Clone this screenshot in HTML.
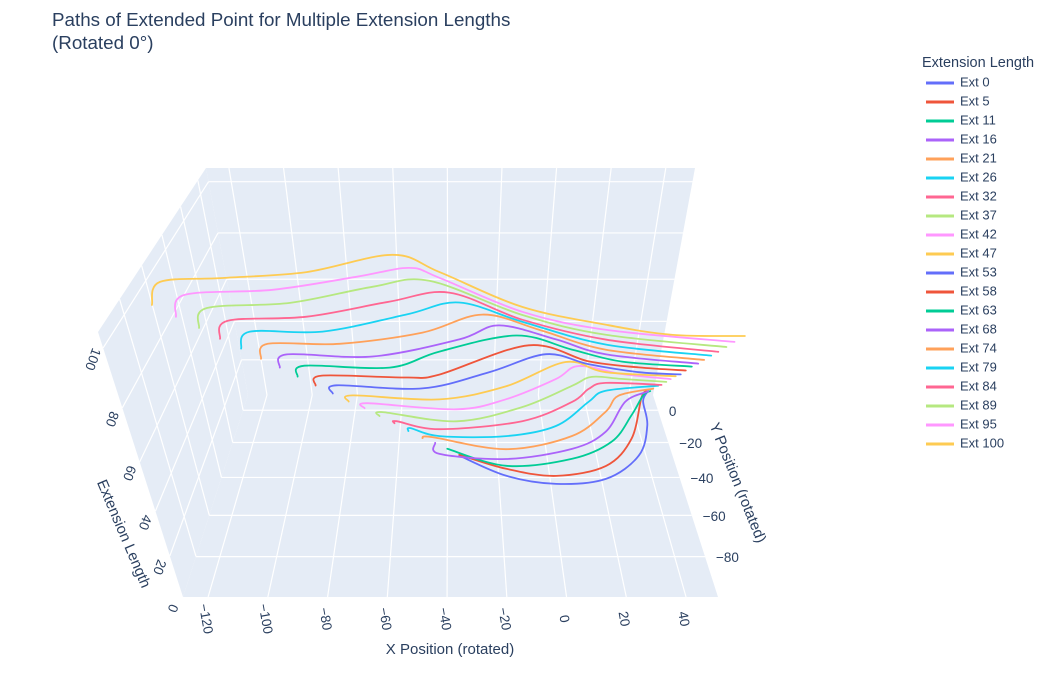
<!DOCTYPE html>
<html><head><meta charset="utf-8"><style>
html,body{margin:0;padding:0;background:#fff;}
svg{display:block;font-family:"Liberation Sans",Arial,sans-serif;}
</style></head><body>
<svg id="chart" width="1046" height="700" viewBox="0 0 1046 700" xmlns="http://www.w3.org/2000/svg">
<text x="52" y="26" font-size="18.8" fill="#2a3f5f">Paths of Extended Point for Multiple Extension Lengths</text>
<text x="52" y="49" font-size="18.8" fill="#2a3f5f">(Rotated 0°)</text>
<g id="scene"></g>
<g id="legend">
<text x="922" y="67" font-size="14.5" fill="#2a3f5f">Extension Length</text>
</g>
</svg>
<script>
const extValues = [0,5.26,10.53,15.79,21.05,26.32,31.58,36.84,42.11,47.37,52.63,57.89,63.16,68.42,73.68,78.95,84.21,89.47,94.74,100];
const seriesLabels = ["Ext 0","Ext 5","Ext 11","Ext 16","Ext 21","Ext 26","Ext 32","Ext 37","Ext 42","Ext 47","Ext 53","Ext 58","Ext 63","Ext 68","Ext 74","Ext 79","Ext 84","Ext 89","Ext 95","Ext 100"];
const seriesX = [
[-35.3,-17.0,2.1,21.8,37.1,44.2,45.5,49.1],
[-35.4,-17.3,1.6,21.5,34.3,43.2,46.2],
[-40.1,-17.7,7.7,24.5,35.1,42.5,46.0],
[-44.7,-43.0,-18.1,7.1,21.4,32.4,43.0],
[-49.4,-45.7,-18.3,6.8,21.7,28.5,43.4],
[-54.4,-53.7,-42.9,-18.5,0.3,14.5,22.2,43.6],
[-59.2,-58.5,-42.8,-12.8,6.7,14.2,21.3,42.7],
[-64.2,-63.3,-36.8,-13.0,6.6,14.9,26.0,42.6],
[-69.0,-68.2,-36.8,-19.1,-0.1,9.4,24.7,42.2],
[-73.9,-72.9,-42.8,-19.3,3.5,17.2,41.9],
[-78.6,-77.9,-48.5,-25.4,-4.4,10.2,27.0,41.3],
[-83.5,-82.2,-53.7,-42.7,-11.1,8.8,25.3,40.9],
[-88.5,-87.2,-59.0,-42.7,-16.0,2.4,18.2,40.7],
[-93.2,-92.2,-64.2,-36.0,-22.2,-3.6,11.7,40.3],
[-97.9,-97.4,-74.4,-48.1,-28.2,-9.9,10.2,39.7],
[-102.8,-102.1,-79.2,-53.3,-36.1,-16.0,8.8,39.4],
[-107.7,-107.7,-83.7,-58.5,-39.4,-16.8,7.4,38.9],
[-112.4,-112.9,-88.2,-63.7,-45.8,-17.5,5.9,38.6],
[-117.4,-118.2,-92.6,-68.1,-52.0,-42.4,-18.3,4.4,38.2],
[-122.4,-124.0,-106.2,-82.0,-57.0,-42.3,-19.0,2.9,19.5,38.3]
];
const seriesY = [
[-27.7,-39.1,-43.5,-40.8,-27.7,-9.5,6.0,12.7],
[-32.6,-40.5,-44.4,-38.9,-23.2,1.9,6.6],
[-34.8,-44.3,-40.4,-30.6,-14.9,-2.2,0.5],
[-37.1,-43.3,-46.1,-40.5,-30.7,-12.4,-5.9],
[-40.2,-39.6,-46.4,-39.0,-24.8,-14.9,-10.4],
[-42.2,-40.5,-45.0,-45.0,-39.3,-25.0,-18.2,-15.0],
[-43.8,-42.7,-47.2,-42.7,-31.5,-23.5,-19.8,-21.0],
[-46.1,-43.8,-49.0,-40.9,-28.3,-22.7,-24.0,-25.8],
[-48.1,-45.2,-48.7,-42.9,-30.9,-22.8,-27.8,-30.9],
[-50.9,-47.4,-49.7,-42.1,-27.4,-33.7,-36.1],
[-53.2,-48.5,-50.3,-40.8,-29.8,-36.0,-40.8,-42.1],
[-55.7,-50.0,-51.1,-49.4,-31.7,-41.6,-45.2,-47.0],
[-57.9,-51.6,-52.7,-43.2,-33.3,-42.0,-49.2,-52.1],
[-60.2,-52.6,-53.8,-43.6,-34.9,-43.6,-52.6,-57.9],
[-62.9,-54.2,-54.2,-47.5,-36.3,-45.7,-57.7,-63.5],
[-65.0,-55.1,-55.1,-44.7,-37.1,-49.1,-62.7,-69.0],
[-67.6,-57.0,-54.6,-45.3,-39.6,-56.4,-68.1,-74.9],
[-69.8,-58.1,-55.0,-45.0,-41.1,-62.3,-73.8,-80.5],
[-72.2,-59.2,-56.1,-48.0,-42.2,-48.6,-69.3,-79.6,-86.2],
[-74.4,-60.7,-58.3,-54.6,-43.5,-54.6,-75.6,-85.7,-91.1,-91.7]
];
const xTicks = [-120,-100,-80,-60,-40,-20,0,20,40];
const yTicks = [-80,-60,-40,-20,0];
const zTicks = [0,20,40,60,80,100];
const palette = ["#636efa","#EF553B","#00cc96","#ab63fa","#FFA15A","#19d3f3","#FF6692","#B6E880","#FF97FF","#FECB52"];

const XMIN=-128.4, XMAX=50.7, YMIN=-98, YMAX=10, ZMAX=105;
function proj(x,y,z){
  const w=z/ZMAX, sz=0.78*w/(1-0.22*w);
  const v=(y-YMIN)/(YMAX-YMIN), t=1.25*v/(1+0.25*v);
  const u=(x-XMIN)/(XMAX-XMIN);
  const fy=597-265*sz, by=395-227*sz;
  const sy=fy-t*(fy-by);
  const left=183-85*sz+t*(65+43*sz);
  const right=718+87*sz-t*(65+45*sz);
  return [left+u*(right-left), sy];
}
const NS="http://www.w3.org/2000/svg";
const scene=document.getElementById('scene');
function mk(tag,attrs,parent){const e=document.createElementNS(NS,tag);for(const k in attrs)e.setAttribute(k,attrs[k]);(parent||scene).appendChild(e);return e;}
function pts(a){return a.map(p=>p[0].toFixed(1)+','+p[1].toFixed(1)).join(' ');}

const floor=mk('polygon',{points:pts([proj(XMIN,YMIN,0),proj(XMAX,YMIN,0),proj(XMAX,YMAX,0),proj(XMIN,YMAX,0)]),fill:'#E5ECF6'});


const back=mk('polygon',{points:pts([proj(XMIN,YMAX,0),proj(XMAX,YMAX,0),proj(XMAX,YMAX,ZMAX),proj(XMIN,YMAX,ZMAX)]),fill:'#E5ECF6'});


const leftw=mk('polygon',{points:pts([proj(XMIN,YMIN,0),proj(XMIN,YMAX,0),proj(XMIN,YMAX,ZMAX),proj(XMIN,YMIN,ZMAX)]),fill:'#E5ECF6'});



function gl(a,b,name){const l=mk('line',{x1:a[0],y1:a[1],x2:b[0],y2:b[1],stroke:'#fff','stroke-width':1.2});
  
  }
xTicks.forEach(x=>{gl(proj(x,YMIN,0),proj(x,YMAX,0),'x-gridline');gl(proj(x,YMAX,0),proj(x,YMAX,ZMAX),'x-gridline');});
yTicks.forEach(y=>{gl(proj(XMIN,y,0),proj(XMAX,y,0),'y-gridline');gl(proj(XMIN,y,0),proj(XMIN,y,ZMAX),'y-gridline');});
zTicks.filter(z=>z>0).forEach(z=>{gl(proj(XMIN,YMAX,z),proj(XMAX,YMAX,z),'z-gridline');gl(proj(XMIN,YMIN,z),proj(XMIN,YMAX,z),'z-gridline');});

function lbl(txt,x,y,rot,anchor,name,size){
  const t=mk('text',{x:x,y:y,'font-size':size||13,fill:'#2a3f5f','text-anchor':anchor||'middle','dominant-baseline':'middle',transform:rot?`rotate(${rot} ${x} ${y})`:''});
  t.textContent=txt;
  
  
  return t;}
function fmt(n){return n<0?'\u2212'+Math.abs(n):String(n);}
xTicks.forEach(x=>{const p=proj(x,YMIN,0);lbl(fmt(x),p[0]-3,p[1]+22,80,'middle','x-tick-label',13.5);});
yTicks.forEach(y=>{const p=proj(XMAX,y,0);lbl(fmt(y),p[0]+11,p[1]+2,0,'start','y-tick-label',13.5);});
zTicks.forEach(z=>{const p=proj(XMIN,YMIN,z);lbl(fmt(z),p[0]-11,p[1]+11,110,'middle','z-tick-label',13.5);});
lbl('X Position (rotated)',450,650,0,'middle','x-axis-title',15);
lbl('Y Position (rotated)',737,483,68,'middle','y-axis-title',15);
lbl('Extension Length',123,534,67,'middle','z-axis-title',15);

function catmull(p){
  let d='M'+p[0][0].toFixed(1)+','+p[0][1].toFixed(1);
  for(let i=0;i<p.length-1;i++){
    const p0=p[i-1]||p[i],p1=p[i],p2=p[i+1],p3=p[i+2]||p[i+1];
    const c1=[p1[0]+(p2[0]-p0[0])/6,p1[1]+(p2[1]-p0[1])/6];
    const c2=[p2[0]-(p3[0]-p1[0])/6,p2[1]-(p3[1]-p1[1])/6];
    d+=` C${c1[0].toFixed(1)},${c1[1].toFixed(1)} ${c2[0].toFixed(1)},${c2[1].toFixed(1)} ${p2[0].toFixed(1)},${p2[1].toFixed(1)}`;
  }
  return d;}
const legend=document.getElementById('legend');
extValues.forEach((z,i)=>{
  const p=seriesX[i].map((x,j)=>proj(x,seriesY[i][j],z));
  const path=mk('path',{d:catmull(p),fill:'none',stroke:palette[i%10],'stroke-width':1.8,'stroke-linejoin':'round','stroke-linecap':'round'});
  
  
  const y=83+19*i;
  const g=mk('g',{},legend);
  
  
  mk('line',{x1:926,y1:y,x2:954,y2:y,stroke:palette[i%10],'stroke-width':3},g);
  const t=mk('text',{x:960,y:y,'font-size':13,fill:'#2a3f5f','dominant-baseline':'middle'},g);
  t.textContent=seriesLabels[i];
  
  
});
</script>
</body></html>
